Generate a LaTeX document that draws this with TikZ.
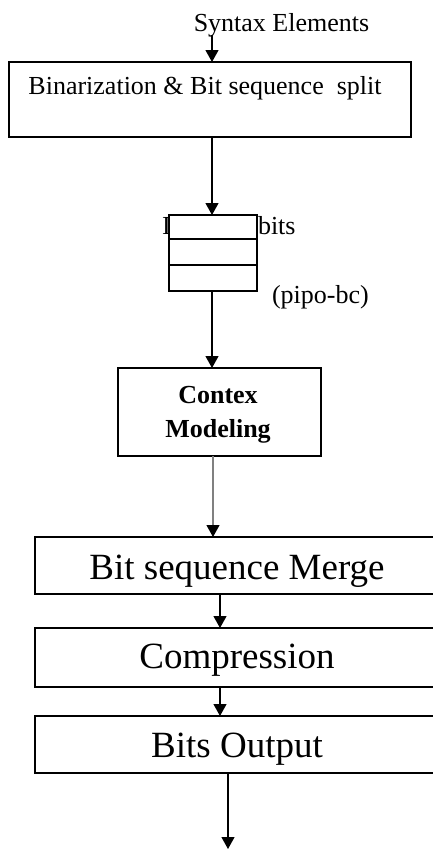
\documentclass[tikz,border=0pt]{standalone}
\usepackage{fontspec}
\setmainfont{Liberation Serif}
\usetikzlibrary{arrows.meta}
\begin{document}
\begin{tikzpicture}[x=1pt,y=-1pt,
  box/.style={draw, line width=1.1pt, inner sep=0pt, outer sep=0pt, fill=white},
  arr/.style={-{Triangle[length=12pt,width=13pt,color=black]}, line width=1.1pt},
  txt/.style={inner sep=0pt, outer sep=0pt, anchor=base, font=\fontsize{26}{30}\selectfont},
  big/.style={inner sep=0pt, outer sep=0pt, anchor=base, font=\fontsize{37}{42}\selectfont}]
\clip (0,0) rectangle (433,849);
% top label
\node[txt] (syn) at (281.5,31) {Syntax Elements};
% box 1
\node[box, minimum width=402pt, minimum height=75pt] (b1) at (210,99.5) {};
\node[txt] (b1t) at (205,94) {Binarization \& Bit sequence\ \ split};
% buffer labels
\node[txt, anchor=base west] (inp) at (162,234) {I};
\node[txt, anchor=base west] (bits) at (258,234) {bits};
\node[txt, anchor=base west] (pipo) at (272,303) {(pipo-bc)};
% buffer
\node[box, minimum width=88pt, minimum height=76pt] (buf) at (213,253) {};
\coordinate (d1l) at (169,239); \coordinate (d1r) at (257,239);
\coordinate (d2l) at (169,265); \coordinate (d2r) at (257,265);
\draw[line width=1.1pt] (d1l) -- (d1r);
\draw[line width=1.1pt] (d2l) -- (d2r);
% context modeling
\node[box, minimum width=203pt, minimum height=88pt] (ctx) at (219.5,412) {};
\node[txt, font=\fontsize{26}{30}\selectfont\bfseries] (ctx1) at (218,403) {Contex};
\node[txt, font=\fontsize{26}{30}\selectfont\bfseries] (ctx2) at (218,437) {Modeling};
% lower boxes
\node[box, minimum width=405pt, minimum height=57pt] (mrg) at (237.5,565.5) {};
\node[big] (mrgt) at (237,579) {Bit sequence Merge};
\node[box, minimum width=405pt, minimum height=59pt] (cmp) at (237.5,657.5) {};
\node[big] (cmpt) at (237,668) {Compression};
\node[box, minimum width=405pt, minimum height=57pt] (out) at (237.5,744.5) {};
\node[big] (outt) at (237,757) {Bits Output};
\coordinate (end) at (228,849);
% connectors
\coordinate (s0) at (212,35);
\draw[arr] (s0) -- (s0 |- b1.north);
\draw[arr] (b1.south -| s0) -- (buf.north -| s0);
\draw[arr] (buf.south -| s0) -- (ctx.north -| s0);
\coordinate (s1) at (213,0);
\draw[arr, draw=black!50] (ctx.south -| s1) -- (mrg.north -| s1);
\coordinate (s2) at (220,0);
\draw[arr] (mrg.south -| s2) -- (cmp.north -| s2);
\draw[arr] (cmp.south -| s2) -- (out.north -| s2);
\draw[arr] (out.south -| end) -- (end);
\end{tikzpicture}
\end{document}
